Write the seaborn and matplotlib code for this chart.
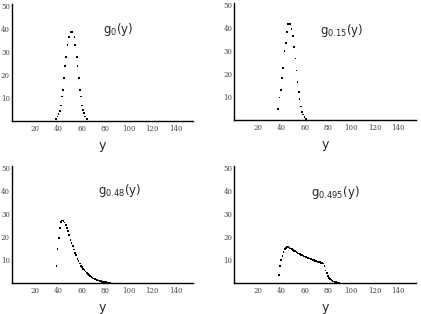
import numpy as np
import matplotlib
matplotlib.use('Agg')
import matplotlib.pyplot as plt
import seaborn as sns

# g_0(y)
g0_y = [37.9, 39.0, 39.9, 41.0, 41.8, 43.0, 43.8, 44.7, 45.5, 46.4, 47.5, 48.9, 50.4,
        51.8, 53.5, 54.1, 55.5, 56.0, 57.2, 58.0, 58.9, 59.7, 60.6, 61.7, 62.8, 64.2]
g0_v = [1.0, 2.0, 2.9, 4.5, 6.7, 10.7, 13.6, 18.8, 23.8, 27.8, 32.9, 36.4, 38.8,
        38.8, 36.4, 32.9, 27.8, 23.8, 18.8, 13.6, 10.7, 6.7, 4.9, 3.5, 2.0, 1.0]

# g_0.15(y)
g015_y = [37.4, 38.6, 40.0, 40.9, 41.7, 42.9, 44.0, 44.9, 46.0, 47.4, 48.9, 50.3,
          51.1, 52.3, 53.1, 54.0, 55.1, 55.7, 56.9, 58.0, 58.9, 60.0, 61.4]
g015_v = [4.9, 9.8, 13.0, 18.2, 22.5, 29.9, 33.6, 38.4, 41.9, 41.9, 39.6, 36.6,
          31.6, 26.7, 21.5, 16.4, 12.1, 9.0, 5.9, 3.6, 2.4, 1.2, 0.4]

# g_0.48(y)
g048_y = list(range(38, 85))
g048_v = [7.5, 14.8, 19.7, 23.8, 26.5, 27.2, 27.1, 26.3, 25.3, 24.0, 22.6, 21.0,
          18.8, 17.5, 16.2, 14.6, 13.1, 12.1, 10.6, 9.5, 8.5, 7.5, 6.8, 6.2, 5.6,
          5.0, 4.5, 4.0, 3.5, 3.0, 2.6, 2.3, 2.0, 1.7, 1.5, 1.3, 1.1, 0.9, 0.75,
          0.6, 0.5, 0.4, 0.35, 0.3, 0.2, 0.15, 0.1]

# g_0.495(y)
g0495_y = list(range(38, 91))
g0495_v = [3.6, 7.5, 10.0, 12.0, 13.7, 14.9, 15.5, 15.8, 15.7, 15.5, 15.1, 14.8,
           14.5, 14.2, 13.9, 13.6, 13.3, 13.0, 12.7, 12.4, 12.2, 11.9, 11.7, 11.4,
           11.2, 11.0, 10.8, 10.6, 10.4, 10.2, 10.0, 9.8, 9.6, 9.4, 9.2, 9.1, 8.9,
           8.8, 8.6, 7.4, 5.6, 4.5, 3.2, 2.3, 1.8, 1.4, 1.1, 0.8, 0.6, 0.5, 0.35,
           0.25, 0.15]

labels = ['$\\mathregular{g_{0}(y)}$', '$\\mathregular{g_{0.15}(y)}$',
          '$\\mathregular{g_{0.48}(y)}$', '$\\mathregular{g_{0.495}(y)}$']
xticks = [20, 40, 60, 80, 100, 120, 140]
yticks = [10, 20, 30, 40, 50]

sns.set_style('white')
plt.rcParams['font.family'] = ['DejaVu Sans']

fig = plt.figure(figsize=(4.21, 3.14), dpi=100)

panels = [
    (g0_y, g0_v, labels[0], [0.0285, 0.6146], (77.9, 39.6)),
    (g015_y, g015_v, labels[1], [0.557, 0.6178], (73.6, 39.0)),
    (g048_y, g048_v, labels[2], [0.0285, 0.0987], (73.4, 40.4)),
    (g0495_y, g0495_v, labels[3], [0.557, 0.0978], (65.7, 39.6)),
]

for xs, vs, lab, pos, tpos in panels:
    ax = fig.add_axes([pos[0], pos[1], 0.43, 0.3736])
    sns.scatterplot(x=xs, y=vs, ax=ax, color='black', s=1.6, marker='s',
                    linewidth=0, edgecolor='none')
    ax.set_xlim(0, 155)
    ax.set_ylim(0, 51)
    ax.set_xticks(xticks)
    ax.set_yticks(yticks)
    ax.tick_params(axis='both', labelsize=5, colors='#444444', length=2,
                   width=0.6, direction='in')
    ax.tick_params(axis='y', pad=1.5)
    ax.tick_params(axis='x', pad=3)
    for t in ax.get_xticklabels() + ax.get_yticklabels():
        t.set_family('DejaVu Serif')
    for side in ['top', 'right']:
        ax.spines[side].set_visible(False)
    for side in ['left', 'bottom']:
        ax.spines[side].set_color('black')
        ax.spines[side].set_linewidth(1.0)
    ax.set_xlabel('y', fontsize=9, labelpad=4)
    ax.set_ylabel('')
    ax.text(tpos[0], tpos[1], lab, fontsize=8.5, va='center', ha='left')
    ax.patch.set_alpha(0)

fig.savefig('out.png', dpi=100)
